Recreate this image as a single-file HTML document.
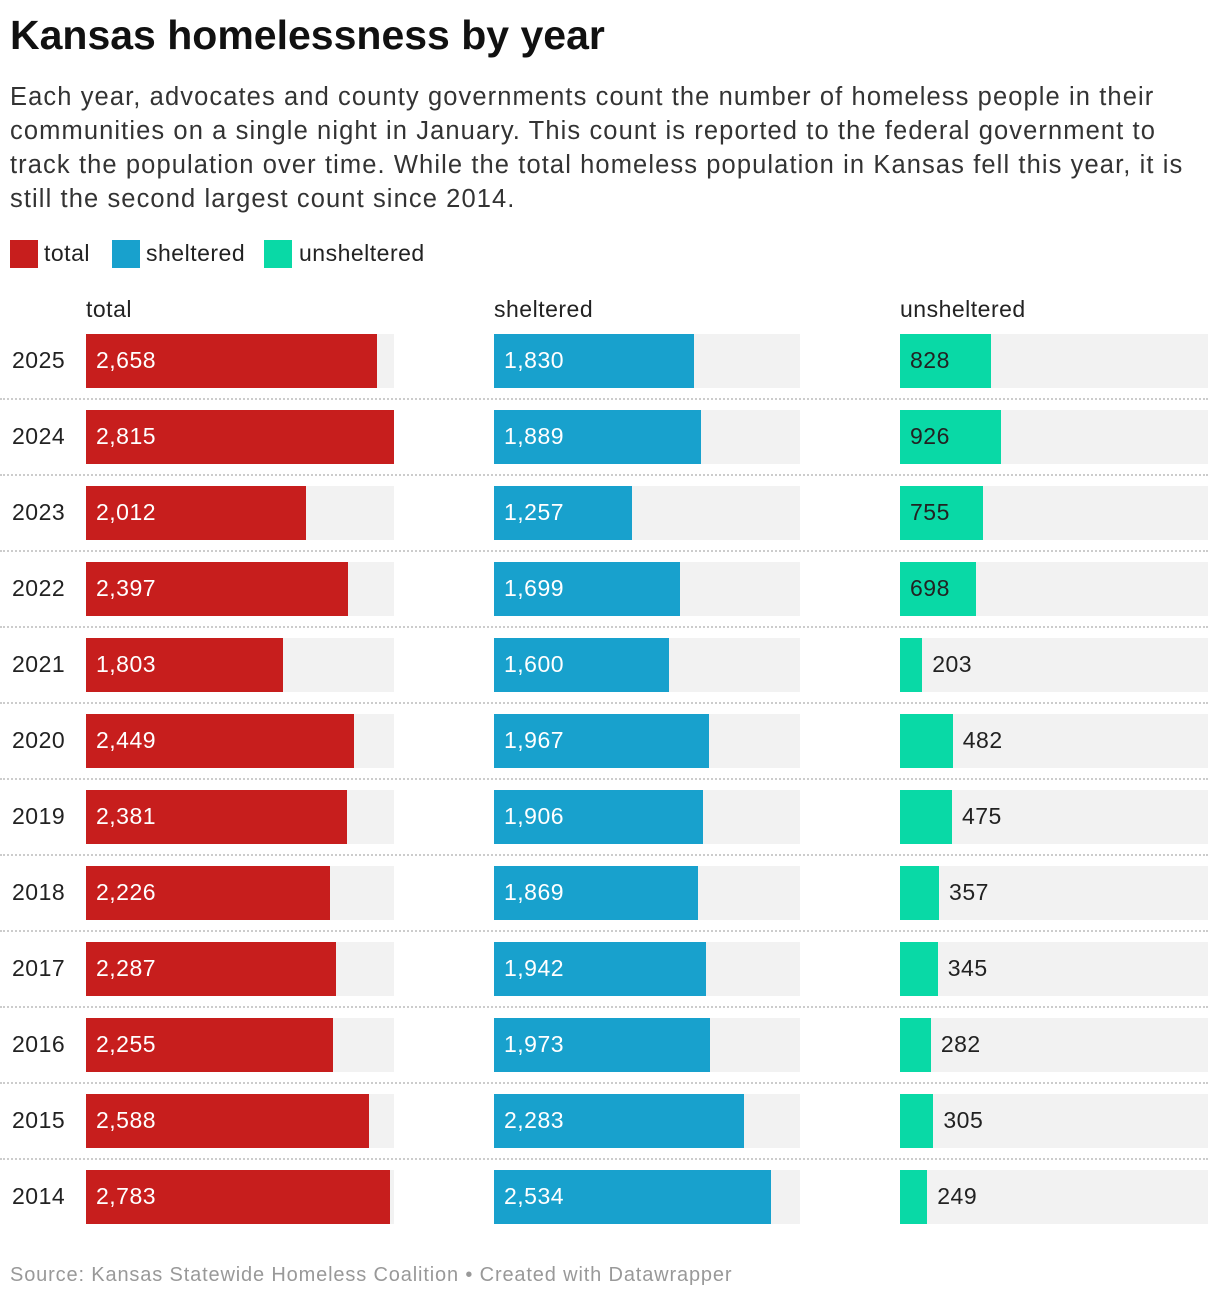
<!DOCTYPE html>
<html><head><meta charset="utf-8"><style>
body{margin:0;background:#fff;font-family:"Liberation Sans",sans-serif;color:#222;}
#wrap{position:relative;width:1220px;height:1300px;overflow:hidden;}
.t{position:absolute;white-space:nowrap;}
</style></head><body><div id="wrap">
<div class="t" style="left:10px;top:12px;font-size:41px;font-weight:bold;color:#111;">Kansas homelessness by year</div>
<div class="t" style="left:10px;top:80px;font-size:25.5px;line-height:34px;color:#333;letter-spacing:1.1px;">Each year, advocates and county governments count the number of homeless people in their<br>communities on a single night in January. This count is reported to the federal government to<br>track the population over time. While the total homeless population in Kansas fell this year, it is<br>still the second largest count since 2014.</div>
<div>
<div class="t" style="left:10px;top:240px;width:28px;height:28px;background:#c71e1d"></div>
<div class="t" style="left:44px;top:240px;font-size:23px;letter-spacing:0.5px;">total</div>
<div class="t" style="left:112px;top:240px;width:28px;height:28px;background:#18a1cd"></div>
<div class="t" style="left:146px;top:240px;font-size:23px;letter-spacing:0.5px;">sheltered</div>
<div class="t" style="left:264px;top:240px;width:28px;height:28px;background:#09d9a6"></div>
<div class="t" style="left:299px;top:240px;font-size:23px;letter-spacing:0.5px;">unsheltered</div>
</div>
<div class="t" style="left:10px;top:1264px;font-size:20px;color:#999;letter-spacing:0.85px;">Source: Kansas Statewide Homeless Coalition • Created with Datawrapper</div>
</div>
<script>
const years=[2025,2024,2023,2022,2021,2020,2019,2018,2017,2016,2015,2014];
const totalVals=[2658,2815,2012,2397,1803,2449,2381,2226,2287,2255,2588,2783];
const shelteredVals=[1830,1889,1257,1699,1600,1967,1906,1869,1942,1973,2283,2534];
const unshelteredVals=[828,926,755,698,203,482,475,357,345,282,305,249];
const columnNames=["total","sheltered","unsheltered"];
const maxVal=2815, barW=308, rowTop=334, rowStep=76, barH=54;
const colX=[86,494,900], colW=[308,306,308], colors=["#c71e1d","#18a1cd","#09d9a6"], txtIn=["#fff","#fff","#222"];
const series=[totalVals,shelteredVals,unshelteredVals];
const xs=v=>v/maxVal*barW;
const root=document.getElementById('wrap');
function mk(css,text){const d=document.createElement('div');d.className='t';d.style.cssText=css;if(text!=null)d.textContent=text;root.appendChild(d);return d;}
columnNames.forEach((n,c)=>{
  const h=mk(`left:${colX[c]}px;top:296px;font-size:23px;letter-spacing:0.5px;`,n);
  
  
});
years.forEach((y,i)=>{
  const top=rowTop+i*rowStep;
  const yl=mk(`left:12px;top:${top+13}px;font-size:23px;letter-spacing:0.5px;`,String(y));
  
  
  if(i<years.length-1){
    const sep=mk(`left:0;top:${top+barH+10}px;width:1208px;height:0;border-top:2px dotted #ccc;`);
    
    
  }
  series.forEach((s,c)=>{
    const bg=mk(`left:${colX[c]}px;top:${top}px;width:${colW[c]}px;height:${barH}px;background:#f2f2f2;`);
    
    
    const w=xs(s[i]);
    const b=mk(`left:${colX[c]}px;top:${top}px;width:${w}px;height:${barH}px;background:${colors[c]};`);
    
    
    const inside=w>65;
    const lx=inside?colX[c]+10:colX[c]+w+10;
    const lbl=mk(`left:${lx}px;top:${top+13}px;font-size:23px;letter-spacing:0.5px;color:${inside?txtIn[c]:'#222'};`,s[i].toLocaleString('en-US'));
    
    
  });
});
</script></body></html>
